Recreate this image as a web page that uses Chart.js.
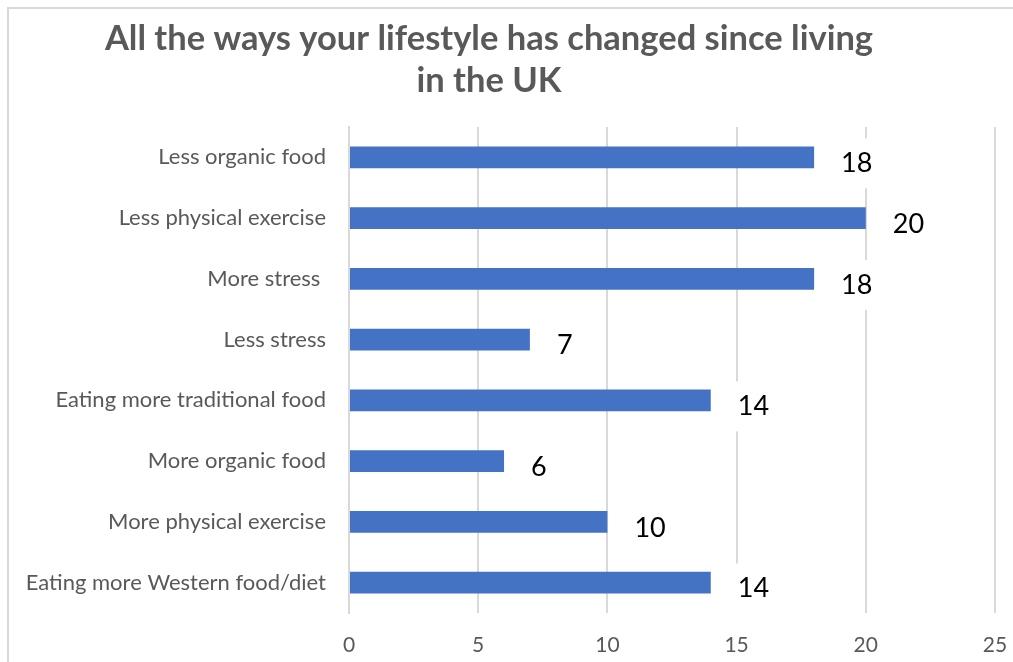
<!DOCTYPE html>
<html lang="en">
<head>
    <meta charset="UTF-8">
    <title>Lifestyle changes since living in the UK</title>
    <style>
        html, body {
            margin: 0;
            padding: 0;
            background: #fff;
        }
        .wrap {
            width: 1013px;
            height: 662px;
            position: relative;
        }
    </style>
</head>
<body>
    <div class="wrap">
        <canvas id="lifestyleChart"></canvas>
    </div>

    <script src="https://cdn.jsdelivr.net/npm/chart.js"></script>
    <script>
        // chart data
        const titleLines = ['All the ways your lifestyle has changed since living', 'in the UK'];
        const categories = [
            'Less organic food',
            'Less physical exercise',
            'More stress ',
            'Less stress',
            'Eating more traditional food',
            'More organic food',
            'More physical exercise',
            'Eating more Western food/diet'
        ];
        const counts = [18, 20, 18, 7, 14, 6, 10, 14];
        const axisMin = 0;
        const axisMax = 25;
        const axisStep = 5;

        const FONT = 'Lato, "Open Sans", sans-serif';
        const GREY_TEXT = '#595959';
        const GRID = '#d9d9d9';

        // frame lines + custom title
        const frameAndTitle = {
            id: 'frameAndTitle',
            beforeDraw(chart) {
                const ctx = chart.ctx;
                ctx.save();
                ctx.fillStyle = '#fff';
                ctx.fillRect(0, 0, chart.width, chart.height);
                ctx.strokeStyle = GRID;
                ctx.lineWidth = 2;
                ctx.beginPath();
                ctx.moveTo(8, chart.height);
                ctx.lineTo(8, 8);
                ctx.lineTo(chart.width, 8);
                ctx.stroke();
                ctx.restore();
            },
            afterDraw(chart) {
                const ctx = chart.ctx;
                ctx.save();
                ctx.fillStyle = GREY_TEXT;
                ctx.font = 'bold 34.5px ' + FONT;
                ctx.textAlign = 'center';
                ctx.textBaseline = 'middle';
                titleLines.forEach((line, i) => {
                    ctx.fillText(line, 489, 39 + i * 42);
                });
                ctx.restore();
            }
        };

        // value labels with white box, sitting just right of each bar
        const valueLabels = {
            id: 'valueLabels',
            afterDatasetsDraw(chart) {
                const ctx = chart.ctx;
                const meta = chart.getDatasetMeta(0);
                ctx.save();
                ctx.font = '27px ' + FONT;
                ctx.textAlign = 'left';
                ctx.textBaseline = 'middle';
                meta.data.forEach((bar, i) => {
                    const txt = String(counts[i]);
                    const w = ctx.measureText(txt).width;
                    const x = bar.x + 27;
                    const y = bar.y + 6;
                    ctx.fillStyle = '#fff';
                    ctx.fillRect(x - 9, y - 25, w + 18, 50);
                    ctx.fillStyle = '#000';
                    ctx.fillText(txt, x, y);
                });
                ctx.restore();
            }
        };

        const ctx = document.getElementById('lifestyleChart').getContext('2d');
        new Chart(ctx, {
            type: 'bar',
            data: {
                labels: categories,
                datasets: [{
                    data: counts,
                    backgroundColor: '#4472c4',
                    borderWidth: 0,
                    categoryPercentage: 1,
                    barPercentage: 0.36
                }]
            },
            options: {
                indexAxis: 'y',
                responsive: true,
                maintainAspectRatio: false,
                animation: false,
                layout: {
                    padding: { top: 127, right: 18, left: 0, bottom: 0 }
                },
                plugins: {
                    legend: { display: false },
                    title: { display: false },
                    tooltip: { enabled: false }
                },
                scales: {
                    x: {
                        min: axisMin,
                        max: axisMax,
                        afterFit(scale) {
                            scale.height = 49;
                            scale.paddingLeft = 0;
                            scale.paddingRight = 0;
                        },
                        ticks: {
                            stepSize: axisStep,
                            color: GREY_TEXT,
                            font: { family: FONT, size: 21 },
                            padding: 20
                        },
                        grid: {
                            color: GRID,
                            lineWidth: 2,
                            drawTicks: false
                        },
                        border: { display: false }
                    },
                    y: {
                        afterFit(scale) {
                            scale.width = 349;
                            scale.paddingTop = 0;
                            scale.paddingBottom = 0;
                        },
                        ticks: {
                            color: GREY_TEXT,
                            font: { family: FONT, size: 22 },
                            padding: 23
                        },
                        grid: { display: false, drawTicks: false },
                        border: { display: true, color: GRID, width: 2 }
                    }
                }
            },
            plugins: [frameAndTitle, valueLabels]
        });
    </script>
</body>
</html>
